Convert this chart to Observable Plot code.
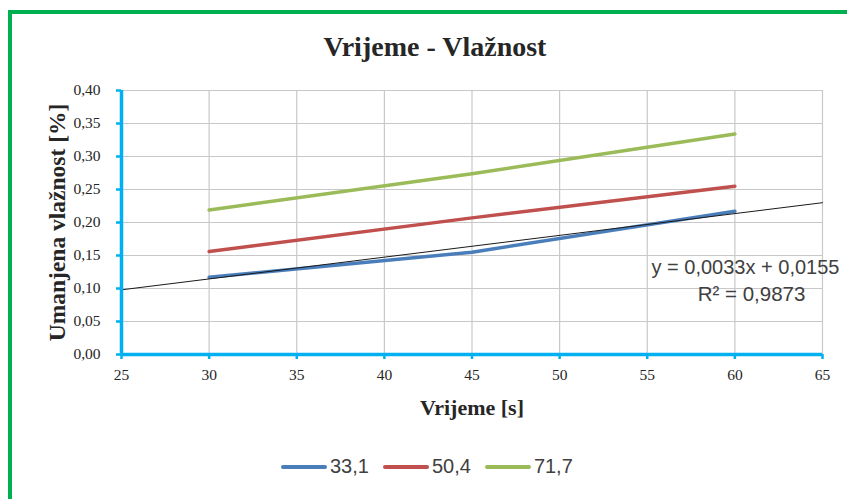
<!DOCTYPE html>
<html>
<head>
<meta charset="utf-8">
<script src="https://cdn.jsdelivr.net/npm/d3@7"></script>
<script src="https://cdn.jsdelivr.net/npm/@observablehq/plot@0.6"></script>
<style>
  html, body { margin: 0; padding: 0; background: #fff; overflow: hidden; }
  #wrap { position: relative; width: 847px; height: 499px; overflow: hidden; }
  #frame { position: absolute; left: 8px; top: 10px; width: 1000px; height: 700px; border: 4px solid #00B050; box-sizing: border-box; }
  #chart { position: absolute; left: 0; top: 0; }
  #legend { position: absolute; left: 281px; top: 455px; display: flex; align-items: center; font-family: "Liberation Sans", Arial, sans-serif; font-size: 20px; color: #404040; }
  .item { display: flex; align-items: center; margin-right: 14px; }
  .item svg { margin-right: 3px; }
</style>
</head>
<body>
<div id="wrap">
  <div id="frame"></div>
  <div id="chart"></div>
  <div id="legend"></div>
</div>
<script>
const title = "Vrijeme - Vlažnost";
const xLabel = "Vrijeme [s]";
const yLabel = "Umanjena vlažnost [%]";
const eqLine1 = "y = 0,0033x + 0,0155";
const eqLine2 = "R² = 0,9873";

const xTicks = [25, 30, 35, 40, 45, 50, 55, 60, 65];
const yTicks = [0, 0.05, 0.10, 0.15, 0.20, 0.25, 0.30, 0.35, 0.40];

const seriesNames = ["33,1", "50,4", "71,7"];
const seriesColors = ["#4A7EBB", "#C0504D", "#9BBB59"];
const times = [30, 45, 60];
const s331 = [0.117, 0.155, 0.217];
const s504 = [0.156, 0.207, 0.255];
const s717 = [0.219, 0.274, 0.334];

const trendX = [25, 65];
const trendY = [0.098, 0.230];

const seriesValues = [s331, s504, s717];
const rows = [];
seriesNames.forEach((name, i) => {
  times.forEach((t, j) => rows.push({series: name, x: t, y: seriesValues[i][j]}));
});
const trend = trendX.map((x, i) => ({x, y: trendY[i]}));

const comma = (f) => (d) => f(d).replace(".", ",");

const axisBlue = "#00B0F0";
const gridGray = "#C8C8C8";
const textCol = "#262626";
const sans = "'Liberation Sans', Arial, sans-serif";

const chart = Plot.plot({
  width: 847,
  height: 499,
  marginLeft: 121,
  marginRight: 25,
  marginTop: 90,
  marginBottom: 145,
  style: {fontFamily: "'Liberation Serif', 'Times New Roman', serif", fontSize: "15px", background: "transparent"},
  x: {domain: [25, 65]},
  y: {domain: [0, 0.4]},
  color: {domain: seriesNames, range: seriesColors},
  marks: [
    Plot.gridX(xTicks, {stroke: gridGray, strokeOpacity: 1, strokeWidth: 1.2}),
    Plot.gridY(yTicks, {stroke: gridGray, strokeOpacity: 1, strokeWidth: 1.2}),
    Plot.line(rows, {x: "x", y: "y", z: "series", stroke: "series", strokeWidth: 3.5}),
    Plot.line(trend, {x: "x", y: "y", stroke: "#1a1a1a", strokeWidth: 1}),
    Plot.ruleX([25], {stroke: axisBlue, strokeWidth: 3.5}),
    Plot.ruleY([0], {stroke: axisBlue, strokeWidth: 3.5}),
    Plot.axisX(xTicks, {tickSize: 5, tickPadding: 9, stroke: axisBlue, strokeWidth: 2.5, fill: textCol, fontSize: 15.5, label: null, tickFormat: (d) => String(d)}),
    Plot.axisY(yTicks, {tickSize: 5, tickPadding: 16, stroke: axisBlue, strokeWidth: 2.5, fill: textCol, fontSize: 15.5, label: null, tickFormat: comma(d3.format(".2f"))}),
    Plot.text([title], {text: (d) => d, frameAnchor: "top", lineAnchor: "bottom", dx: -37, dy: -35, fontSize: 28, fontWeight: "bold", fill: textCol}),
    Plot.text([xLabel], {text: (d) => d, frameAnchor: "bottom", lineAnchor: "bottom", dy: 60, fontSize: 22, fontWeight: "bold", fill: textCol}),
    Plot.text([yLabel], {text: (d) => d, frameAnchor: "left", textAnchor: "middle", lineAnchor: "middle", rotate: -90, dx: -64, fontSize: 23.5, fontWeight: "bold", fill: textCol}),
    Plot.text([eqLine1], {text: (d) => d, frameAnchor: "top-right", textAnchor: "start", lineAnchor: "bottom", dx: -171, dy: 183, fontSize: 20, fontFamily: sans, fill: "#404040"}),
    Plot.text([eqLine2], {text: (d) => d, frameAnchor: "top-right", textAnchor: "middle", lineAnchor: "bottom", dx: -71, dy: 210, fontSize: 20.5, fontFamily: sans, fill: "#404040"})
  ]
});
chart.style.overflow = "visible";
document.getElementById("chart").appendChild(chart);

const legend = document.getElementById("legend");
seriesNames.forEach((name, i) => {
  const item = document.createElement("div");
  item.className = "item";
  item.innerHTML = `<svg width="46" height="20"><line x1="2" y1="10" x2="44" y2="10" stroke="${seriesColors[i]}" stroke-width="4" stroke-linecap="round"/></svg><span>${name}</span>`;
  legend.appendChild(item);
});
</script>
</body>
</html>
